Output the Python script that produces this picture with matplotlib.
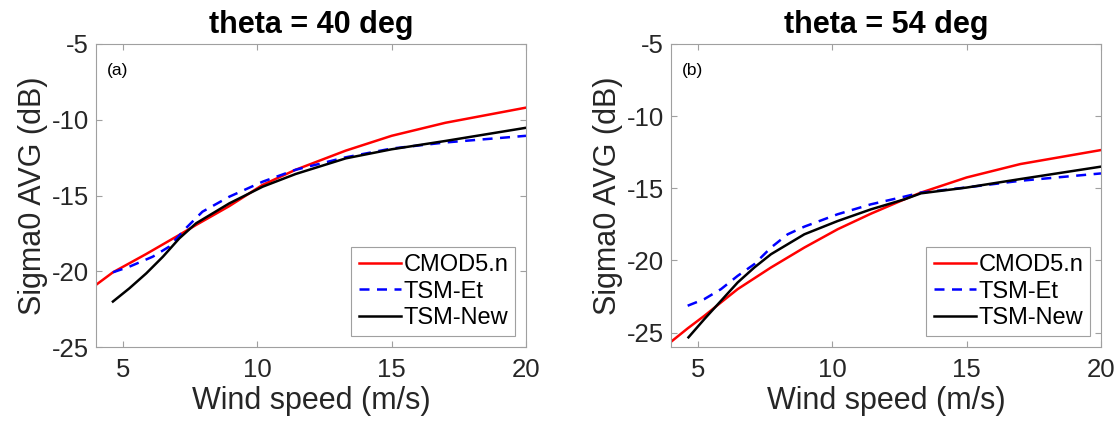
import matplotlib
matplotlib.use("Agg")
import matplotlib.pyplot as plt

# ============================================
# DATA
# ============================================

# theta = 40 deg
x40_cmod = [4, 4.63, 5.87, 7.1, 7.72, 8.96, 10.2, 11.43, 13.29, 15, 17, 20]
y40_cmod = [-20.9, -20.07, -18.86, -17.6, -16.95, -15.7, -14.3, -13.3, -12.04, -11.06, -10.2, -9.2]

x40_et = [4.63, 5.24, 6.11, 6.72, 7.35, 7.96, 8.96, 10.2, 11.43, 13.29, 15, 17, 20]
y40_et = [-20.07, -19.7, -19.04, -18.38, -17.15, -16.07, -15.08, -14.09, -13.3, -12.48, -11.9, -11.5, -11.06]

x40_new = [4.63, 5.24, 5.87, 6.49, 7.1, 7.72, 8.96, 10.2, 11.43, 13.29, 15, 17, 20]
y40_new = [-22.0, -21.13, -20.14, -19.04, -17.83, -16.84, -15.52, -14.42, -13.58, -12.55, -11.95, -11.4, -10.53]

# theta = 54 deg
x54_cmod = [4, 4.62, 5.24, 5.86, 6.48, 7.72, 8.96, 10.2, 11.44, 12.68, 13.3, 15, 17, 20]
y54_cmod = [-25.64, -24.71, -23.84, -22.91, -21.99, -20.49, -19.11, -17.84, -16.76, -15.77, -15.3, -14.25, -13.32, -12.35]

x54_et = [4.62, 5.24, 5.86, 6.48, 7.1, 7.72, 8.34, 8.96, 10.2, 11.44, 12.68, 13.3, 15, 17, 20]
y54_et = [-23.14, -22.68, -21.99, -21.07, -20.26, -19.11, -18.19, -17.66, -16.8, -16.11, -15.58, -15.3, -14.94, -14.48, -13.97]

x54_new = [4.65, 5.24, 5.86, 6.48, 7.1, 7.72, 8.96, 10.2, 11.44, 12.68, 13.3, 15, 17, 20]
y54_new = [-25.33, -24.07, -22.8, -21.53, -20.49, -19.57, -18.19, -17.27, -16.46, -15.77, -15.35, -14.95, -14.36, -13.5]

titles = ["theta = 40 deg", "theta = 54 deg"]
panel_tags = ["(a)", "(b)"]
ylims = [(-25, -5), (-26, -5)]
xticks = [5, 10, 15, 20]
yticks = [-25, -20, -15, -10, -5]
labels = ["CMOD5.n", "TSM-Et", "TSM-New"]

panels = [
    (x40_cmod, y40_cmod, x40_et, y40_et, x40_new, y40_new),
    (x54_cmod, y54_cmod, x54_et, y54_et, x54_new, y54_new),
]

# ============================================
# PLOT
# ============================================

plt.rcParams["font.family"] = ["Liberation Sans", "DejaVu Sans"]
plt.rcParams["axes.unicode_minus"] = False

fig = plt.figure(figsize=(11.17, 4.28), dpi=100)
lefts = [96 / 1117, 671 / 1117]
axes_w = 430 / 1117
axes_b = (428 - 347) / 428
axes_h = 303 / 428

spine_col = "#a0a0a0"
text_col = "#262626"

for i, (xc, yc, xe, ye, xn, yn) in enumerate(panels):
    ax = fig.add_axes([lefts[i], axes_b, axes_w, axes_h])
    ax.plot(xc, yc, color="red", lw=1.8, label=labels[0])
    ax.plot(xe, ye, color="blue", lw=1.8, ls=(0, (4, 3)), label=labels[1])
    ax.plot(xn, yn, color="black", lw=1.8, label=labels[2])

    ax.set_xlim(4, 20)
    ax.set_ylim(*ylims[i])
    ax.set_xticks(xticks)
    ax.set_yticks(yticks)
    ax.tick_params(direction="in", length=4, width=0.8, colors=spine_col,
                   labelcolor=text_col, labelsize=18.5, top=True, right=True)
    ax.tick_params(axis="x", pad=8)
    ax.tick_params(axis="y", pad=5)
    for s in ax.spines.values():
        s.set_color(spine_col)
        s.set_linewidth(0.8)

    ax.set_title(titles[i], fontsize=22, fontweight="bold", pad=8)
    ax.set_xlabel("Wind speed (m/s)", fontsize=22, color=text_col, labelpad=3)
    ax.set_ylabel("Sigma0 AVG (dB)", fontsize=22, color=text_col, labelpad=3)
    ax.text(0.026, 0.911, panel_tags[i], transform=ax.transAxes, fontsize=12.5,
            va="center", ha="left")

    leg = ax.legend(loc="lower right", fontsize=17, handlelength=1.8,
                    handletextpad=0.1, borderpad=0.3, labelspacing=0.2,
                    fancybox=False, framealpha=1, borderaxespad=0.45)
    leg.get_frame().set_edgecolor(spine_col)
    leg.get_frame().set_linewidth(0.8)

fig.savefig("out.png", dpi=100)
